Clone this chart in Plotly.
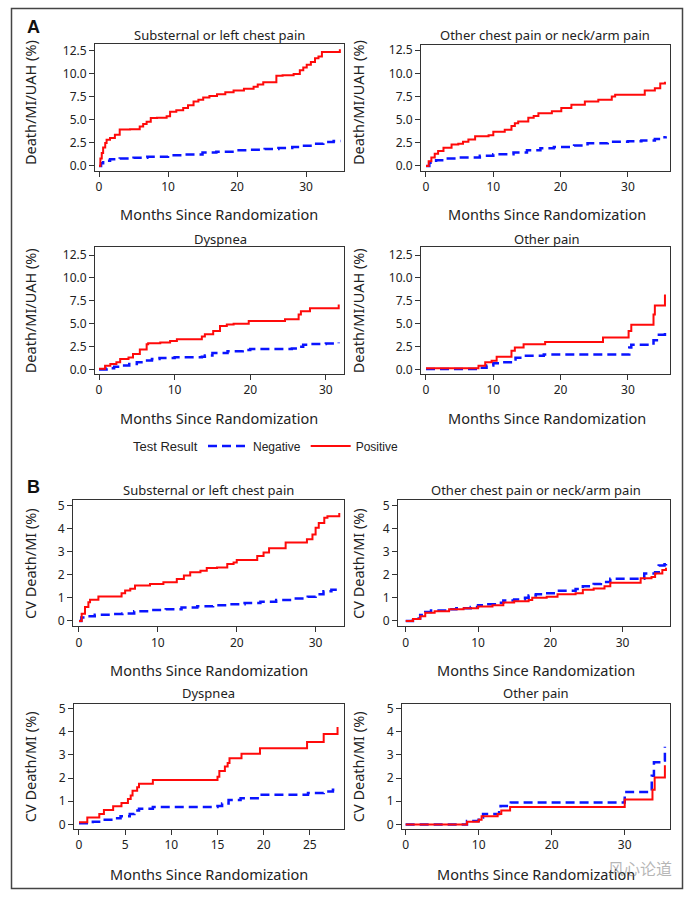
import plotly.graph_objects as go

# ---------------- DATA ----------------
# Panel A: Death/MI/UAH (%)
a1_pos_x = [0, 0.2, 0.4, 0.6, 0.9, 1.1, 1.6, 2.3, 3.0, 4.5, 5.9, 6.4, 6.9, 7.5, 8.4, 9.8, 10.3, 11.2, 12.2, 12.9, 13.7, 14.4, 15.1, 16.0, 17.1, 18.3, 19.5, 21.0, 22.4, 23.0, 23.8, 25.7, 26.6, 28.2, 29.1, 29.6, 30.1, 30.7, 31.3, 31.8, 32.3, 34.9]
a1_pos_y = [0, 0.8, 1.4, 2.0, 2.5, 2.85, 3.05, 3.4, 3.95, 4.0, 4.3, 4.55, 4.8, 5.2, 5.25, 5.4, 5.9, 6.05, 6.3, 6.6, 7.0, 7.2, 7.45, 7.6, 7.8, 8.0, 8.2, 8.4, 8.6, 8.85, 9.1, 9.8, 9.85, 10.0, 10.4, 10.7, 11.0, 11.3, 11.7, 11.9, 12.4, 12.7]
a1_neg_x = [0, 0.3, 0.6, 1.6, 3, 5, 7, 10, 12, 15, 17, 20, 22, 24, 26, 28, 29.5, 31, 32.5, 34, 35]
a1_neg_y = [0, 0.3, 0.55, 0.72, 0.8, 0.9, 1.0, 1.15, 1.25, 1.45, 1.55, 1.7, 1.75, 1.85, 1.95, 2.05, 2.2, 2.4, 2.6, 2.7, 2.7]

a2_pos_x = [0, 0.4, 0.8, 1.3, 1.8, 2.6, 3.8, 4.8, 5.5, 6.3, 7.3, 9.3, 10.0, 11.7, 12.7, 13.2, 13.7, 15.2, 16.0, 16.7, 18.7, 20.1, 21.6, 23.6, 25.6, 27.6, 28.1, 32.5, 34.0, 34.8, 35.5]
a2_pos_y = [0, 0.5, 0.9, 1.3, 1.6, 1.96, 2.3, 2.4, 2.6, 2.86, 3.2, 3.3, 3.7, 3.9, 4.3, 4.6, 4.8, 5.2, 5.4, 5.7, 5.9, 6.25, 6.6, 6.96, 7.14, 7.5, 7.68, 8.14, 8.4, 8.9, 9.1]
a2_neg_x = [0, 0.5, 1.5, 3, 5, 8, 10, 13, 15, 17, 19, 22, 24, 27, 30, 32, 34, 35, 35.6]
a2_neg_y = [0, 0.35, 0.6, 0.8, 0.9, 1.1, 1.25, 1.45, 1.7, 1.9, 2.05, 2.2, 2.45, 2.6, 2.65, 2.75, 2.9, 3.1, 3.2]

a3_pos_x = [0, 0.8, 1.5, 2.3, 2.8, 3.9, 4.5, 5.4, 6.3, 6.5, 8.1, 9.4, 10.3, 13.6, 14.0, 15.1, 16.0, 16.9, 17.8, 19.8, 24.6, 26.4, 26.7, 27.9, 31.7]
a3_pos_y = [0.1, 0.43, 0.6, 0.8, 1.15, 1.33, 1.7, 2.2, 2.77, 2.88, 2.95, 3.13, 3.31, 3.6, 3.85, 4.2, 4.75, 4.93, 5.0, 5.3, 5.5, 6.0, 6.38, 6.7, 7.1]
a3_neg_x = [0, 1, 2, 3, 4, 5, 6, 7, 8, 10, 13.6, 14, 15, 17, 19, 20, 25.5, 26.2, 27, 28, 30, 31.7]
a3_neg_y = [0, 0.15, 0.3, 0.45, 0.6, 0.8, 1.0, 1.15, 1.25, 1.35, 1.4, 1.55, 1.8, 2.0, 2.15, 2.25, 2.3, 2.5, 2.7, 2.8, 2.85, 2.95]

a4_pos_x = [0, 7.8, 8.8, 9.75, 10.5, 12.7, 13.2, 14.5, 17.7, 26.3, 30.1, 30.5, 33.8, 34.0, 35.5]
a4_pos_y = [0.15, 0.43, 0.8, 0.97, 1.4, 2.05, 2.4, 2.77, 3.0, 3.5, 4.2, 4.9, 6.0, 7.0, 8.2]
a4_neg_x = [0, 8, 9, 10, 11, 12.8, 13.3, 14.3, 17.5, 30.2, 30.5, 33.8, 34.3, 35.5]
a4_neg_y = [0.05, 0.2, 0.45, 0.7, 0.8, 1.1, 1.3, 1.5, 1.65, 2.4, 2.7, 3.2, 3.8, 4.3]

# Panel B: CV Death/MI (%)
b1_pos_x = [0, 0.34, 0.76, 1.19, 1.4, 2.46, 5.4, 5.85, 6.5, 7.1, 9.0, 10.7, 12.4, 13.3, 14.1, 15.4, 16.2, 17.5, 18.8, 19.6, 20.0, 22.6, 23.4, 24.1, 26.2, 28.9, 29.6, 30.0, 30.4, 31.1, 31.5, 33.0]
b1_pos_y = [0, 0.31, 0.6, 0.81, 0.91, 1.06, 1.2, 1.31, 1.39, 1.53, 1.6, 1.67, 1.81, 1.96, 2.1, 2.17, 2.29, 2.31, 2.46, 2.53, 2.63, 2.81, 2.96, 3.14, 3.39, 3.53, 3.74, 4.03, 4.24, 4.46, 4.53, 4.67]
b1_neg_x = [0, 0.3, 1, 2, 4, 5.5, 7, 9, 11, 13, 15, 17, 19, 21, 23, 25, 27, 29, 30, 31, 32, 33]
b1_neg_y = [0, 0.15, 0.2, 0.27, 0.3, 0.32, 0.42, 0.47, 0.5, 0.58, 0.63, 0.68, 0.72, 0.77, 0.83, 0.9, 0.97, 1.05, 1.15, 1.28, 1.35, 1.4]

b2_pos_x = [0, 1, 2, 2.7, 4, 6, 8, 10, 12, 13.5, 15, 17, 17.5, 19.5, 21, 23.5, 24.5, 26, 27.5, 28.3, 32.5, 34, 34.5, 35.5, 36]
b2_pos_y = [0, 0.08, 0.2, 0.35, 0.42, 0.5, 0.55, 0.62, 0.68, 0.8, 0.85, 0.9, 1.0, 1.05, 1.15, 1.2, 1.35, 1.4, 1.5, 1.65, 1.85, 1.9, 2.05, 2.2, 2.3]
b2_neg_x = [0, 1, 2, 2.7, 3.5, 6, 7, 9, 10, 11, 12.5, 13.5, 15, 16.5, 17, 18, 19, 21, 23.5, 24.5, 26, 27, 28.3, 33, 34.5, 35, 35.8, 36]
b2_neg_y = [0, 0.1, 0.25, 0.38, 0.45, 0.5, 0.55, 0.6, 0.68, 0.72, 0.78, 0.88, 0.93, 1.0, 1.1, 1.15, 1.2, 1.3, 1.38, 1.5, 1.6, 1.68, 1.82, 2.05, 2.1, 2.4, 2.45, 2.6]

b3_pos_x = [0, 0.9, 2.2, 2.7, 3.7, 4.6, 5.3, 5.6, 5.8, 6.3, 6.5, 8.0, 15.0, 15.2, 15.8, 16.1, 16.3, 17.6, 19.6, 24.7, 26.5, 28.0]
b3_pos_y = [0.1, 0.3, 0.45, 0.62, 0.78, 0.92, 1.1, 1.25, 1.45, 1.6, 1.75, 1.92, 2.05, 2.3, 2.5, 2.65, 2.85, 3.05, 3.28, 3.55, 3.9, 4.2]
b3_neg_x = [0, 1.5, 2.5, 3.5, 4.5, 5.5, 6.0, 6.5, 8.0, 15.0, 15.5, 16.2, 17.5, 19.5, 24.8, 26.5, 27.5, 28.0]
b3_neg_y = [0.05, 0.12, 0.2, 0.27, 0.35, 0.45, 0.6, 0.68, 0.75, 0.8, 0.9, 1.05, 1.13, 1.28, 1.35, 1.42, 1.5, 1.58]

b4_pos_x = [0, 8.4, 10.0, 10.4, 12.6, 13.1, 14.3, 30.0, 33.8, 34.1, 35.5]
b4_pos_y = [0, 0.12, 0.2, 0.35, 0.45, 0.6, 0.75, 1.07, 1.5, 2.02, 2.55]
b4_neg_x = [0, 8.4, 10.0, 10.6, 12.8, 13.0, 14.4, 30.0, 33.7, 34.0, 35.2, 35.5]
b4_neg_y = [0, 0.15, 0.3, 0.45, 0.6, 0.8, 0.95, 1.4, 2.1, 2.68, 2.75, 3.35]

panel_titles = ["Substernal or left chest pain", "Other chest pain or neck/arm pain", "Dyspnea", "Other pain",
                "Substernal or left chest pain", "Other chest pain or neck/arm pain", "Dyspnea", "Other pain"]
a_ytitle = "Death/MI/UAH (%)"
b_ytitle = "CV Death/MI (%)"
x_title = "Months Since Randomization"
a_yticks = [0, 2.5, 5, 7.5, 10, 12.5]
a_yticktext = ["0.0", "2.5", "5.0", "7.5", "10.0", "12.5"]
b_yticks = [0, 1, 2, 3, 4, 5]
series_names = ["Negative", "Positive"]
legend_title = "Test Result"

# ---------------- LAYOUT GEOMETRY (pixels) ----------------
W, H = 691, 903
def px_x(v): return v / W
def px_y(v): return 1 - v / H

panels = [
    dict(box=(95, 344, 40, 168), xr=[-0.58, 35.5], yr=[-0.5, 13.3], data=(a1_neg_x, a1_neg_y, a1_pos_x, a1_pos_y)),
    dict(box=(421, 670, 41, 168), xr=[-0.74, 36.25], yr=[-0.5, 13.1], data=(a2_neg_x, a2_neg_y, a2_pos_x, a2_pos_y)),
    dict(box=(95, 344, 245, 373), xr=[-0.53, 32.4], yr=[-0.45, 13.4], data=(a3_neg_x, a3_neg_y, a3_pos_x, a3_pos_y)),
    dict(box=(421, 670, 245, 373), xr=[-0.74, 36.25], yr=[-0.45, 13.4], data=(a4_neg_x, a4_neg_y, a4_pos_x, a4_pos_y)),
    dict(box=(73, 344, 500, 628), xr=[-0.76, 33.6], yr=[-0.24, 5.25], data=(b1_neg_x, b1_neg_y, b1_pos_x, b1_pos_y)),
    dict(box=(398, 670, 500, 628), xr=[-1.07, 36.56], yr=[-0.24, 5.25], data=(b2_neg_x, b2_neg_y, b2_pos_x, b2_pos_y)),
    dict(box=(74, 344, 706, 832), xr=[-0.54, 28.7], yr=[-0.18, 5.2], data=(b3_neg_x, b3_neg_y, b3_pos_x, b3_pos_y)),
    dict(box=(402, 670, 706, 832), xr=[-0.5, 36.2], yr=[-0.18, 5.2], data=(b4_neg_x, b4_neg_y, b4_pos_x, b4_pos_y)),
]

FONT = "Noto Sans, Open Sans, DejaVu Sans"
tick_font = dict(family=FONT, size=12, color="#222")
title_font = dict(family=FONT, size=13, color="#222")
axis_title_font = dict(family=FONT, size=14.5, color="#222")
legend_font = dict(family="Liberation Sans, Arial", size=12, color="#222")

fig = go.Figure()
layout = dict(width=W, height=H, margin=dict(l=0, r=0, t=0, b=0),
              paper_bgcolor="white", plot_bgcolor="white")
annotations = []

for i, p in enumerate(panels):
    n = i + 1
    xa = "x" if n == 1 else f"x{n}"
    ya = "y" if n == 1 else f"y{n}"
    l, r, t, b = p["box"]
    nx, ny, posx, posy = p["data"]
    fig.add_trace(go.Scatter(x=nx, y=ny, mode="lines", line_shape="hv", name=series_names[0],
                             line=dict(color="#0a14ff", width=2.5, dash="9px,5px"),
                             xaxis=xa, yaxis=ya, showlegend=(i == 0), legendgroup="neg"))
    fig.add_trace(go.Scatter(x=posx, y=posy, mode="lines", line_shape="hv", name=series_names[1],
                             line=dict(color="#ff0a0a", width=2),
                             xaxis=xa, yaxis=ya, showlegend=(i == 0), legendgroup="pos"))
    is_a = i < 4
    xticks = [0, 5, 10, 15, 20, 25] if i == 6 else [0, 10, 20, 30]
    axis_common = dict(showline=True, mirror=True, linecolor="#333", linewidth=1,
                       ticks="outside", ticklen=5, tickcolor="#333", tickwidth=1,
                       showgrid=False, zeroline=False, tickfont=tick_font, fixedrange=True)
    layout["xaxis" if n == 1 else f"xaxis{n}"] = dict(
        domain=[px_x(l), px_x(r)], range=p["xr"], anchor=ya,
        tickmode="array", tickvals=xticks, **axis_common)
    yax = dict(domain=[px_y(b), px_y(t)], range=p["yr"], anchor=xa, tickmode="array", **axis_common)
    if is_a:
        yax.update(tickvals=a_yticks, ticktext=a_yticktext)
    else:
        yax.update(tickvals=b_yticks, ticktext=[str(v) for v in b_yticks])
    layout["yaxis" if n == 1 else f"yaxis{n}"] = yax

    title_y = {0: 31, 1: 31, 2: 237, 3: 237, 4: 490, 5: 490, 6: 695, 7: 695}[i]
    title_x = {0: 219, 1: 545, 2: 220, 3: 547, 4: 208, 5: 536, 6: 208, 7: 536}[i]
    annotations.append(dict(text=panel_titles[i], x=px_x(title_x), y=px_y(title_y), xref="paper", yref="paper",
                            xanchor="center", yanchor="middle", showarrow=False, font=title_font))
    xt_y = {0: 212, 1: 212, 2: 418, 3: 418, 4: 672, 5: 672, 6: 878, 7: 878}[i]
    xt_x = {0: 219, 1: 547, 2: 219, 3: 547, 4: 209, 5: 536, 6: 209, 7: 536}[i]
    annotations.append(dict(text=x_title, x=px_x(xt_x), y=px_y(xt_y), xref="paper", yref="paper",
                            xanchor="center", yanchor="middle", showarrow=False, font=axis_title_font))
    yt_x = 30 if i % 2 == 0 else 358
    yt_y = {0: 100, 1: 100, 2: 310, 3: 310, 4: 565, 5: 565, 6: 770, 7: 770}[i]
    annotations.append(dict(text=a_ytitle if is_a else b_ytitle, x=px_x(yt_x), y=px_y(yt_y),
                            xref="paper", yref="paper", xanchor="center", yanchor="middle",
                            textangle=-90, showarrow=False, font=axis_title_font))

annotations.append(dict(text="<b>A</b>", x=px_x(33), y=px_y(23), xref="paper", yref="paper",
                        xanchor="center", yanchor="middle", showarrow=False,
                        font=dict(family="Liberation Sans, Arial", size=18, color="#111")))
annotations.append(dict(text="<b>B</b>", x=px_x(33), y=px_y(487), xref="paper", yref="paper",
                        xanchor="center", yanchor="middle", showarrow=False,
                        font=dict(family="Liberation Sans, Arial", size=18, color="#111")))
annotations.append(dict(text=legend_title, x=px_x(200), y=px_y(446), xref="paper", yref="paper",
                        xanchor="right", yanchor="middle", showarrow=False,
                        font=dict(family="Liberation Sans, Arial", size=13, color="#222")))
annotations.append(dict(text="风心论道", x=px_x(640), y=px_y(872), xref="paper", yref="paper",
                        xanchor="center", yanchor="middle", showarrow=False,
                        font=dict(family="Noto Sans CJK SC", size=16, color="rgba(110,110,110,0.5)")))

layout["annotations"] = annotations
layout["showlegend"] = True
layout["legend"] = dict(orientation="h", x=px_x(203), y=px_y(446), xanchor="left", yanchor="middle",
                        font=legend_font, bgcolor="rgba(0,0,0,0)", itemwidth=40, tracegroupgap=0,
                        borderwidth=0)
layout["shapes"] = [dict(type="rect", xref="paper", yref="paper", x0=px_x(11.5), x1=px_x(682.5),
                         y0=px_y(892.5), y1=px_y(4.5), line=dict(color="#444", width=1.5))]
fig.update_layout(**layout)
fig.write_html("out.html", config={"displayModeBar": False},
               post_script="document.body.style.margin='0';document.body.style.padding='0';")
